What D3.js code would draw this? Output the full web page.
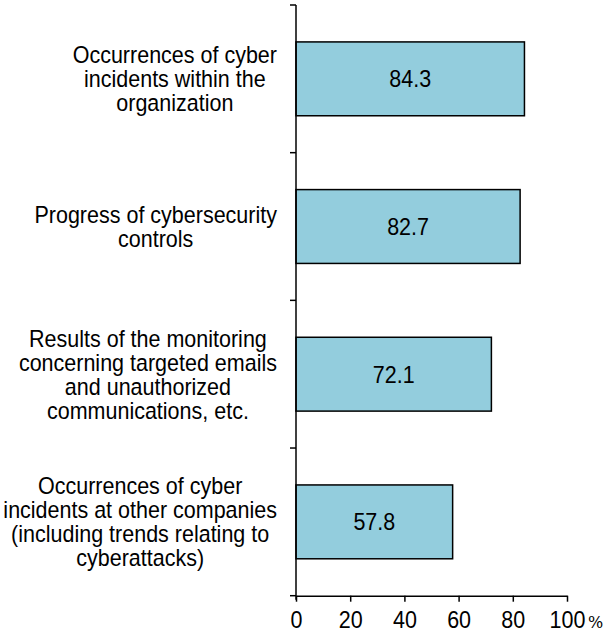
<!DOCTYPE html>
<html>
<head>
<meta charset="utf-8">
<script src="https://cdn.jsdelivr.net/npm/d3@7.9.0/dist/d3.min.js"></script>
<style>
  body { margin: 0; background: #fff; }
  text { font-family: "Liberation Sans", Arial, sans-serif; fill: #000; }
</style>
</head>
<body>
<svg id="chart" width="608" height="633"></svg>
<script>
// data
const categories = [
  'Occurrences of cyber incidents within the organization',
  'Progress of cybersecurity controls',
  'Results of the monitoring concerning targeted emails and unauthorized communications, etc.',
  'Occurrences of cyber incidents at other companies (including trends relating to cyberattacks)'
];
const labelLines = [
  ['Occurrences of cyber', 'incidents within the', 'organization'],
  ['Progress of cybersecurity', 'controls'],
  ['Results of the monitoring', 'concerning targeted emails', 'and unauthorized', 'communications, etc.'],
  ['Occurrences of cyber', 'incidents at other companies', '(including trends relating to', 'cyberattacks)']
];
const values = [84.3, 82.7, 72.1, 57.8];
const xTicks = [0, 20, 40, 60, 80, 100];

const svg = d3.select('#chart');
const plotLeft = 296, plotRight = 567, plotTop = 5, plotBottom = 595.7;
const fontSize = '21.5px';
const stretch = 1.1; // source text looks a little taller than wide

const x = d3.scaleLinear().domain([0, 100]).range([plotLeft, plotRight]);
const y = d3.scaleBand().domain(categories).range([plotTop, plotBottom])
  .paddingInner(0.5).paddingOuter(0.25);

// bars
svg.selectAll('rect.bar')
  .data(values)
  .join('rect')
  .attr('class', 'bar')
  .attr('x', x(0))
  .attr('y', (d, i) => y(categories[i]))
  .attr('width', d => x(d) - x(0))
  .attr('height', y.bandwidth())
  .attr('fill', '#93cddd')
  .attr('stroke', '#000')
  .attr('stroke-width', 1.5);

// value labels
svg.selectAll('text.val')
  .data(values)
  .join('text')
  .attr('class', 'val')
  .attr('transform', (d, i) =>
    `translate(${(x(0) + x(d)) / 2},${y(categories[i]) + y.bandwidth() / 2}) scale(1,${stretch})`)
  .attr('dy', '0.36em')
  .attr('text-anchor', 'middle')
  .style('font-size', fontSize)
  .text(d => d.toFixed(1));

// x axis
const xAxis = svg.append('g')
  .attr('transform', `translate(0,${plotBottom})`)
  .call(d3.axisBottom(x).tickValues(xTicks).tickSize(6).tickSizeOuter(0).tickPadding(8));
xAxis.select('.domain').attr('stroke-width', 1.5);
xAxis.selectAll('.tick line').attr('stroke-width', 1.5);
xAxis.selectAll('.tick text')
  .attr('transform', `scale(1,${stretch})`)
  .style('font-size', fontSize)
  .style('font-family', '"Liberation Sans", Arial, sans-serif')
  .attr('fill', '#000');

svg.append('text')
  .attr('x', 588)
  .attr('y', 628)
  .style('font-family', '"DejaVu Serif", serif')
  .style('font-size', '16px')
  .text('%');

// y axis line and boundary ticks
svg.append('line')
  .attr('x1', plotLeft).attr('x2', plotLeft)
  .attr('y1', plotTop).attr('y2', plotBottom + 4)
  .attr('stroke', '#000').attr('stroke-width', 1.5);

const bounds = d3.range(categories.length + 1).map(i => plotTop + i * y.step());
svg.selectAll('line.ytick')
  .data(bounds)
  .join('line')
  .attr('class', 'ytick')
  .attr('x1', plotLeft - 6).attr('x2', plotLeft)
  .attr('y1', d => d).attr('y2', d => d)
  .attr('stroke', '#000').attr('stroke-width', 1.5);

// category labels: block right edge near axis, lines centred in the block
const lineH = 24;
const blockRight = 277;
labelLines.forEach((lines, i) => {
  const cy = y(categories[i]) + y.bandwidth() / 2;
  const g = svg.append('g');
  const texts = g.selectAll('text')
    .data(lines)
    .join('text')
    .attr('dy', '0.36em')
    .attr('text-anchor', 'middle')
    .style('font-size', fontSize)
    .text(d => d);
  const maxW = d3.max(texts.nodes(), n => n.getComputedTextLength());
  texts.attr('transform', (d, j) =>
    `translate(${blockRight - maxW / 2},${cy + (j - (lines.length - 1) / 2) * lineH}) scale(1,${stretch})`);
});
</script>
</body>
</html>
